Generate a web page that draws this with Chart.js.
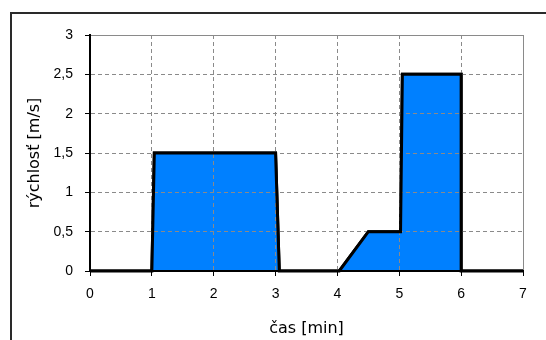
<!DOCTYPE html>
<html>
<head>
<meta charset="utf-8">
<script src="https://cdn.jsdelivr.net/npm/chart.js@4/dist/chart.umd.min.js"></script>
<style>
  html, body { margin: 0; padding: 0; background: #ffffff; overflow: hidden; }
  #frame {
    position: absolute; left: 10px; top: 12px;
    width: 600px; height: 400px;
    border: 2px solid #2a2a2a; background: #ffffff;
  }
  #chart { position: absolute; left: 0; top: 0; }
</style>
</head>
<body>
<div id="frame"></div>
<canvas id="chart" width="546" height="340"></canvas>
<script>
// Speed profile: time in minutes, speed in m/s
const timeMin = [0, 1, 1.04, 3, 3.06, 4.03, 4.5, 5.02, 5.05, 6, 6, 7];
const speed   = [0, 0, 1.5,  1.5, 0,   0,    0.5, 0.5,  2.5,  2.5, 0, 0];

const xTickLabels = ['0', '1', '2', '3', '4', '5', '6', '7'];
const yTickLabels = ['0', '0,5', '1', '1,5', '2', '2,5', '3'];

const points = timeMin.map((t, i) => ({ x: t, y: speed[i] }));

const TICK_FONT = { family: 'Liberation Sans, Arial, sans-serif', size: 14 };
const TITLE_FONT = { family: 'DejaVu Sans, sans-serif', size: 16 };
const GRID_GREY = '#8a8a8a';

// Redraw the outline last so it sits above the dashed grid
const outlineOnTop = {
  id: 'outlineOnTop',
  afterDraw(chart) {
    const meta = chart.getDatasetMeta(1);
    chart.ctx.save();
    meta.controller.draw();
    chart.ctx.restore();
  }
};

new Chart(document.getElementById('chart'), {
  type: 'line',
  data: {
    datasets: [
      {
        data: points,
        fill: 'origin',
        backgroundColor: '#0080ff',
        borderWidth: 0,
        pointRadius: 0,
        tension: 0
      },
      {
        data: points,
        fill: false,
        borderColor: '#000000',
        borderWidth: 3,
        borderJoinStyle: 'miter',
        pointRadius: 0,
        tension: 0
      }
    ]
  },
  plugins: [outlineOnTop],
  options: {
    responsive: false,
    animation: false,
    devicePixelRatio: 1,
    layout: { padding: { left: 0, top: 35, right: 23, bottom: 0 } },
    plugins: { legend: { display: false }, tooltip: { enabled: false } },
    scales: {
      x: {
        type: 'linear',
        min: 0, max: 7,
        afterFit(scale) { scale.height = 69; },
        ticks: {
          stepSize: 1,
          padding: 10,
          color: '#000000',
          font: TICK_FONT,
          callback: (v, i) => xTickLabels[i]
        },
        grid: {
          z: 1,
          color: GRID_GREY,
          lineWidth: 1,
          tickColor: '#000000',
          tickLength: 5,
          tickWidth: 1
        },
        border: {
          z: 2,
          color: '#000000',
          width: 2,
          dash: (c) => (c.tick && c.tick.value === 7 ? [] : [4, 3])
        },
        title: {
          display: true,
          text: 'čas [min]',
          color: '#000000',
          font: TITLE_FONT,
          padding: { top: 0, bottom: 2 }
        }
      },
      y: {
        min: 0, max: 3,
        afterFit(scale) { scale.width = 90; },
        ticks: {
          stepSize: 0.5,
          padding: 12,
          color: '#000000',
          font: TICK_FONT,
          callback: (v, i) => yTickLabels[i]
        },
        grid: {
          z: 1,
          color: GRID_GREY,
          lineWidth: 1,
          tickColor: '#000000',
          tickLength: 5,
          tickWidth: 1
        },
        border: {
          z: 2,
          color: '#000000',
          width: 2,
          dash: (c) => (c.tick && c.tick.value === 3 ? [] : [4, 3])
        },
        title: {
          display: true,
          text: 'rýchlosť [m/s]',
          color: '#000000',
          font: TITLE_FONT,
          padding: { top: 25, bottom: 0 }
        }
      }
    }
  }
});
</script>
</body>
</html>
